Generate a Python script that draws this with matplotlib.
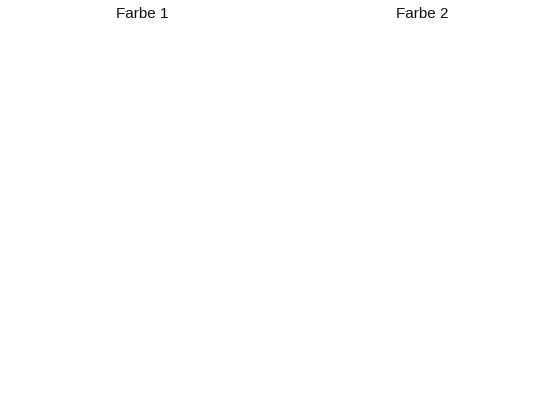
import numpy as np
import matplotlib.pyplot as plt

plt.rcParams['font.family'] = ['Liberation Sans', 'DejaVu Sans']

# two colour swatches, both plain white
titles = ['Farbe 1', 'Farbe 2']
colors = [[1.0, 1.0, 1.0], [1.0, 1.0, 1.0]]

fig = plt.figure(figsize=(5.6, 4.2), dpi=100)
lefts = [0.0536, 0.5536]

for left, title, c in zip(lefts, titles, colors):
    ax = fig.add_axes([left, 0.05, 0.4, 0.888])
    swatch = np.array(c).reshape(1, 1, 3)
    ax.imshow(swatch, aspect='auto')
    ax.set_title(title, fontsize=11, color='#111111')
    ax.axis('off')

fig.savefig('out.png', dpi=100, facecolor='white')
